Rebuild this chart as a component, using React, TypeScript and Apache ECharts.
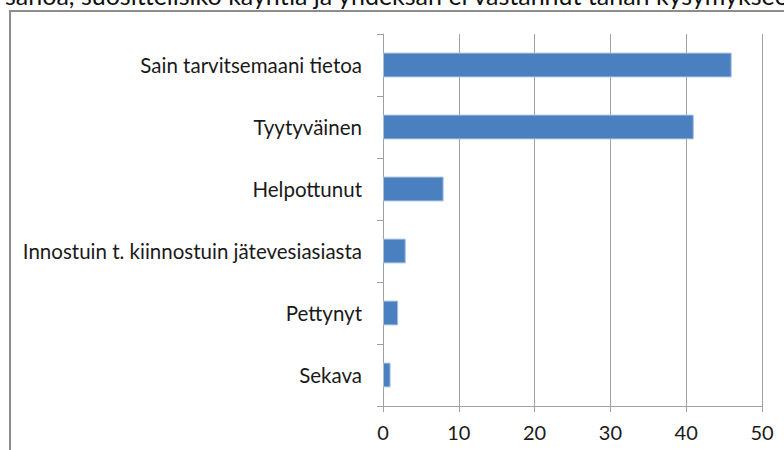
import React, { useEffect, useRef } from "react";
import * as echarts from "echarts";

const categories = [
  "Sain tarvitsemaani tietoa",
  "Tyytyväinen",
  "Helpottunut",
  "Innostuin t. kiinnostuin jätevesiasiasta",
  "Pettynyt",
  "Sekava",
];
const values = [46, 41, 8, 3, 2, 1];
const xTicks = { min: 0, max: 50, interval: 10 };
const headerText =
  "sanoa, suosittelisiko käyntiä ja yhdeksän ei vastannut tähän kysymykseen.";

export default function App() {
  const ref = useRef<HTMLDivElement>(null);
  useEffect(() => {
    if (!ref.current) return;
    const chart = echarts.init(ref.current, null, { renderer: "svg" });
    const font = "Lato, 'Open Sans', sans-serif";
    chart.setOption({
      animation: false,
      backgroundColor: "#ffffff",
      graphic: [
        {
          type: "text",
          left: 5,
          top: -18,
          style: {
            text: headerText,
            font: `25px ${font}`,
            fill: "#111111",
          },
        },
        {
          type: "rect",
          shape: { x: 10, y: 11, width: 800, height: 460 },
          style: { fill: "none", stroke: "#8c8c8c", lineWidth: 2 },
          z: -1,
        },
      ],
      grid: { left: 383, right: 22, top: 34, bottom: 44 },
      xAxis: {
        type: "value",
        min: xTicks.min,
        max: xTicks.max,
        interval: xTicks.interval,
        axisLine: { show: true, lineStyle: { color: "#a0a0a0", width: 1 } },
        axisTick: { show: true, length: 6, lineStyle: { color: "#a0a0a0" } },
        axisLabel: {
          color: "#1a1a1a",
          fontFamily: font,
          fontSize: 20,
          margin: 16,
        },
        splitLine: { show: true, lineStyle: { color: "#a0a0a0", width: 1 } },
      },
      yAxis: {
        type: "category",
        inverse: true,
        data: categories,
        axisLine: { show: true, lineStyle: { color: "#a0a0a0", width: 1 } },
        axisTick: {
          show: true,
          length: 6,
          alignWithLabel: false,
          lineStyle: { color: "#a0a0a0" },
        },
        axisLabel: {
          color: "#1a1a1a",
          fontFamily: font,
          fontSize: 20.5,
          margin: 21,
        },
      },
      series: [
        {
          type: "bar",
          data: values,
          barWidth: "40%",
          itemStyle: {
            color: "#4a80bf",
            borderColor: "#a9c1e0",
            borderWidth: 1,
          },
        },
      ],
    });
    return () => chart.dispose();
  }, []);
  return (
    <div
      ref={ref}
      style={{
        position: "fixed",
        left: 0,
        top: 0,
        width: 784,
        height: 450,
      }}
    />
  );
}
